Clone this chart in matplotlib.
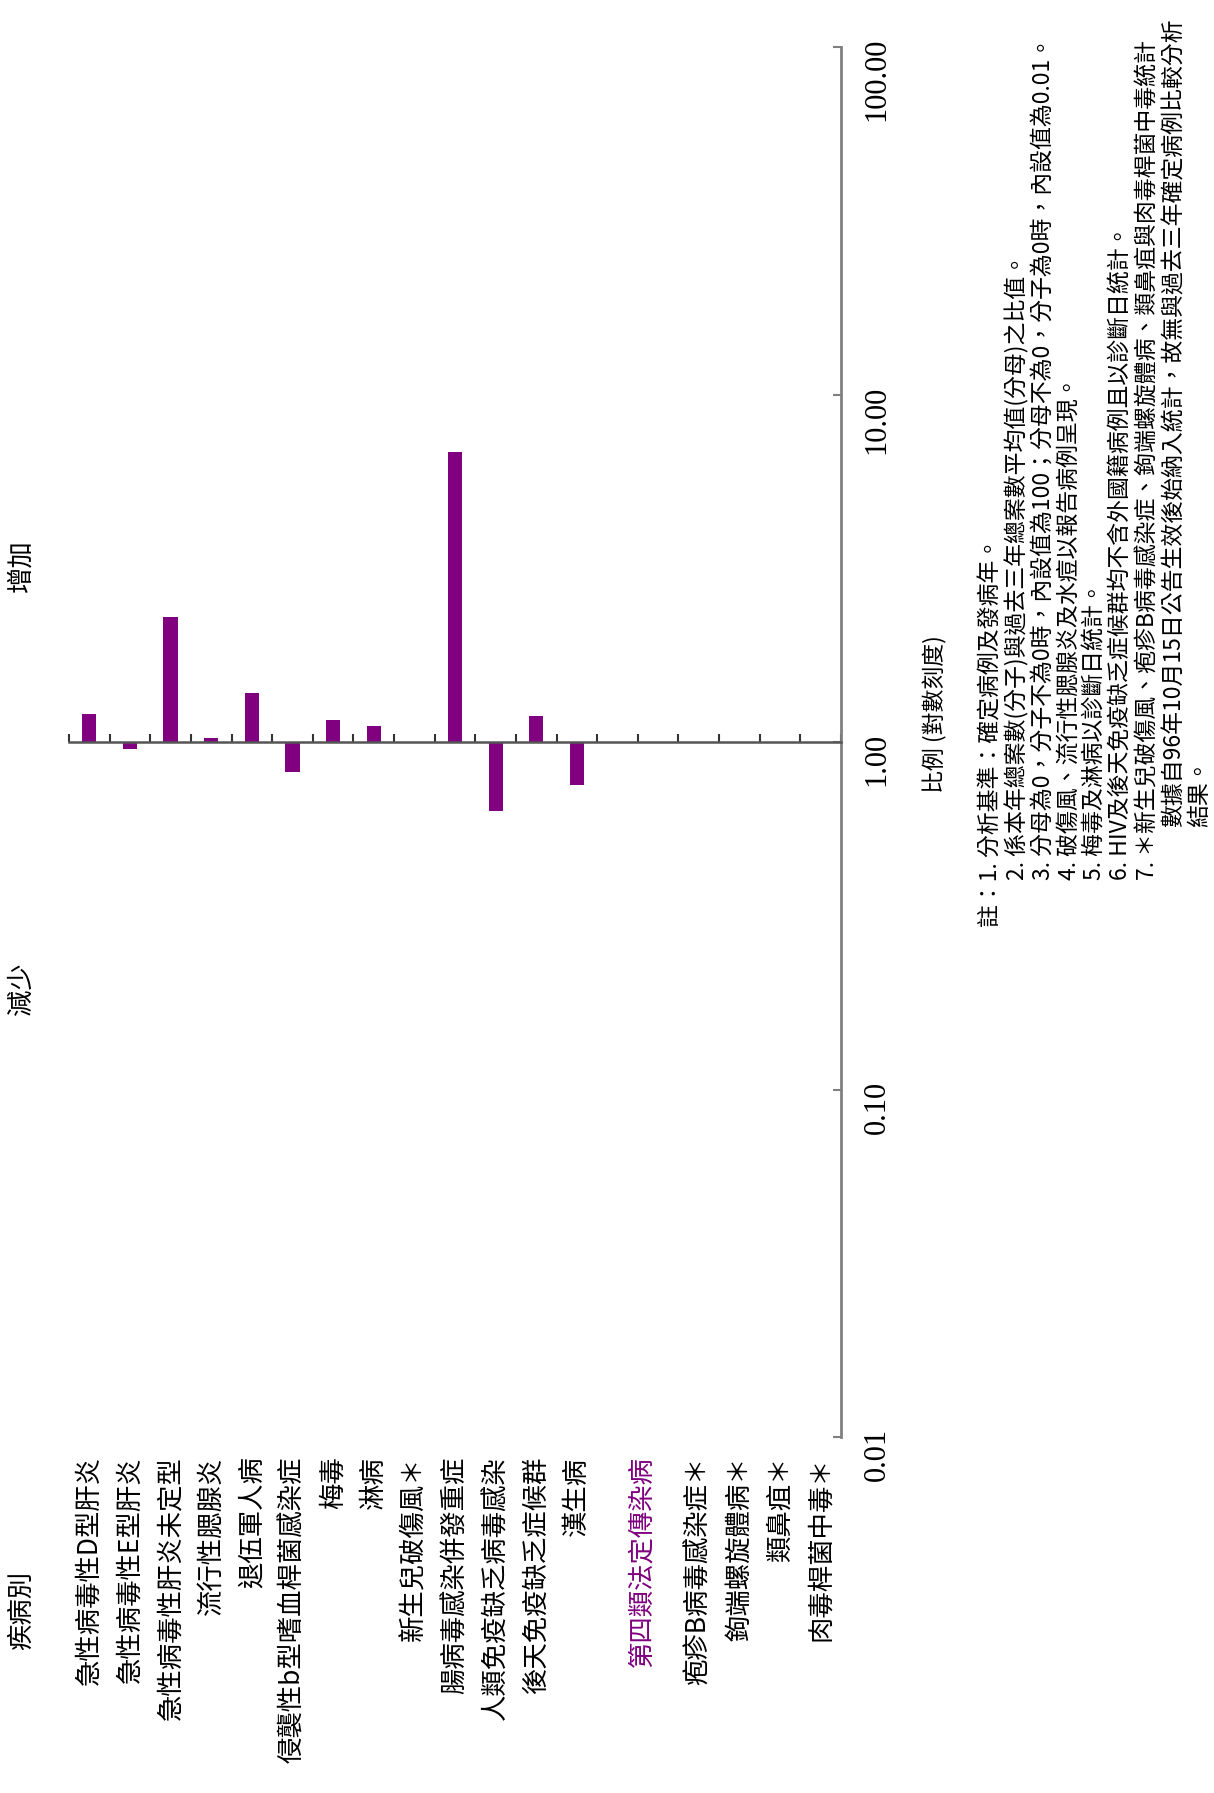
import numpy as np
from matplotlib import pyplot as plt
from matplotlib.ticker import NullLocator, FixedLocator
from matplotlib.transforms import offset_copy, ScaledTranslation

plt.rcParams['font.family'] = ['Noto Sans CJK TC', 'DejaVu Sans']

# categories (19 slots, left to right in the rotated page)
categories = [
    "急性病毒性D型肝炎", "急性病毒性E型肝炎", "急性病毒性肝炎未定型", "流行性腮腺炎",
    "退伍軍人病", "侵襲性b型嗜血桿菌感染症", "梅毒", "淋病", "新生兒破傷風＊",
    "腸病毒感染併發重症", "人類免疫缺乏病毒感染", "後天免疫缺乏症候群", "漢生病",
    "", "第四類法定傳染病", "疱疹B病毒感染症＊", "鉤端螺旋體病＊", "類鼻疽＊", "肉毒桿菌中毒＊",
]
ratios = [1.20, 0.955, 2.29, 1.03, 1.38, 0.82, 1.16, 1.11, np.nan,
          6.83, 0.634, 1.19, 0.753, np.nan, np.nan, np.nan, np.nan, np.nan, np.nan]
header_idx = 14
yticks = [0.01, 0.1, 1, 10, 100]

notes = [
    "註：1. 分析基準：確定病例及發病年。",
    "2. 係本年總案數(分子)與過去三年總案數平均值(分母)之比值。",
    "3. 分母為0，分子不為0時，內設值為100；分母不為0，分子為0時，內設值為0.01。",
    "4. 破傷風、流行性腮腺炎及水痘以報告病例呈現。",
    "5. 梅毒及淋病以診斷日統計。",
    "6. HIV及後天免疫缺乏症候群均不含外國籍病例且以診斷日統計。",
    "7. ＊新生兒破傷風、疱疹B病毒感染症、鉤端螺旋體病、類鼻疽與肉毒桿菌中毒統計",
    "數據自96年10月15日公告生效後始納入統計，故無與過去三年確定病例比較分析",
    "結果。",
]
note_starts = [927, 880, 880, 880, 880, 880, 880, 827, 827]  # pixel rows from top

W, H = 1214, 1793
fig = plt.figure(figsize=(W / 100, H / 100), dpi=100)
ax = fig.add_axes([69 / W, (H - 1437) / H, 772 / W, 1390 / H])

purple = "#800080"
x = np.arange(len(categories))
vals = np.array(ratios)
ax.bar(x, vals - 1, bottom=1, width=0.35, color=purple)

ax.set_yscale('log')
ax.set_ylim(0.01, 100)
ax.set_xlim(-0.5, len(categories) - 0.5)

for s in ['left', 'top']:
    ax.spines[s].set_visible(False)
ax.spines['bottom'].set_position(('data', 1))
ax.spines['bottom'].set_color('#555555')
ax.spines['bottom'].set_linewidth(1.8)
ax.spines['right'].set_color('#808080')
ax.spines['right'].set_linewidth(2)

# category separators on the baseline
ax.xaxis.set_major_locator(FixedLocator(np.arange(-0.5, len(categories), 1)))
ax.xaxis.set_minor_locator(NullLocator())
ax.tick_params(axis='x', direction='in', length=6, width=1.5, colors='#333333',
               labelbottom=False)

ax.yaxis.tick_right()
ax.set_yticks(yticks)
ax.yaxis.set_minor_locator(NullLocator())
ax.set_yticklabels(["%.2f" % v for v in yticks])
ax.tick_params(axis='y', direction='in', length=6, width=1.5, colors='#808080',
               pad=26, labelcolor='black')
shift_up = ScaledTranslation(0, 0.09, fig.dpi_scale_trans)
for lbl in ax.get_yticklabels():
    lbl.set_rotation(90)
    lbl.set_va('top')
    lbl.set_ha('center')
    lbl.set_family('Liberation Serif')
    lbl.set_fontsize(22)
    lbl.set_transform(lbl.get_transform() + shift_up)

# category labels under the axis, rotated with the page
trans = ax.get_xaxis_transform()
for i, name in enumerate(categories):
    t = trans
    color = 'black'
    if i == header_idx:
        t = offset_copy(trans, fig=fig, x=-16, units='dots')
        color = purple
    ax.text(i, -0.014, name, transform=t, rotation=90, ha='center', va='top',
            fontsize=19, color=color)

fig.text(21 / W, 1 - 1610 / H, "疾病別", rotation=90, ha='center', va='center', fontsize=19)
fig.text(21 / W, 1 - 566 / H, "增加", rotation=90, ha='center', va='center', fontsize=19)
fig.text(21 / W, 1 - 989 / H, "減少", rotation=90, ha='center', va='center', fontsize=19)
fig.text(935 / W, 1 - 714 / H, "比例 (對數刻度)", rotation=90, ha='center', va='center',
         fontsize=16.5)

# notes
for k, (line, y0) in enumerate(zip(notes, note_starts)):
    fig.text((991 + 26.1 * k) / W, 1 - y0 / H, line, rotation=90, ha='center', va='bottom',
             fontsize=16.5)

fig.savefig("out.png", dpi=100)
